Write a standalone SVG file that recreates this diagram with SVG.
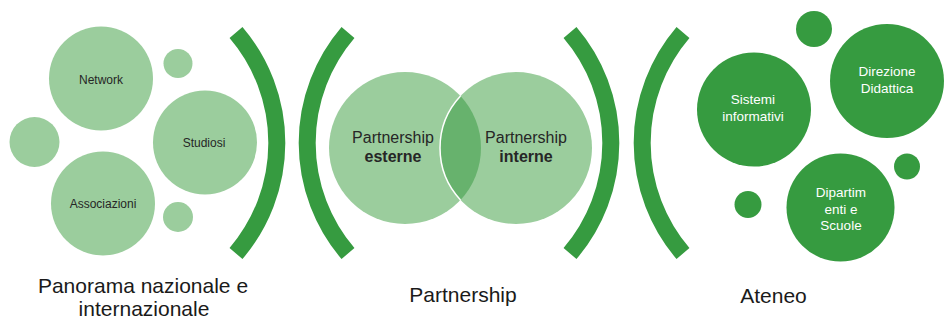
<svg xmlns="http://www.w3.org/2000/svg" width="946" height="320" viewBox="0 0 946 320">
  <style>
    .light { fill: #9bcd9d; }
    .dark { fill: #369b40; }
    .lens { fill: #67b26d; }
    .bracket { fill: none; stroke: #369b40; stroke-width: 17; stroke-linecap: butt; }
    .t { font-family: "Liberation Sans", Arial, sans-serif; text-anchor: middle; }
    .sm { font-size: 12px; fill: #262626; }
    .md { font-size: 16px; fill: #262626; }
    .wt { font-size: 13.5px; fill: #ffffff; }
    .lbl { font-size: 21px; fill: #1a1a1a; }
    .b { font-weight: bold; }
  </style>
  <rect x="0" y="0" width="946" height="320" fill="#ffffff"/>

  <!-- Left panel: Panorama nazionale e internazionale -->
  <g id="left-small-top"><circle class="light" cx="178" cy="63.5" r="14.5"/></g>
  <g id="left-small-left"><circle class="light" cx="34.5" cy="142" r="25"/></g>
  <g id="left-small-bottom"><circle class="light" cx="178" cy="217" r="15"/></g>
  <g id="network">
    <circle class="light" cx="101" cy="78.5" r="52"/>
    <text class="t sm" x="101" y="84">Network</text>
  </g>
  <g id="studiosi">
    <circle class="light" cx="205" cy="142.5" r="52"/>
    <text class="t sm" x="204" y="147">Studiosi</text>
  </g>
  <g id="associazioni">
    <circle class="light" cx="103" cy="203.5" r="52"/>
    <text class="t sm" x="103" y="208">Associazioni</text>
  </g>
  <g id="label-panorama">
    <text class="t lbl" x="143" y="293">Panorama nazionale e</text>
    <text class="t lbl" x="144" y="316">internazionale</text>
  </g>

  <!-- Middle panel: Partnership -->
  <g id="partnership-esterne">
    <circle class="light" cx="405" cy="148" r="76"/>
    <text class="t md" x="393" y="143">Partnership</text>
    <text class="t md b" x="393" y="162">esterne</text>
  </g>
  <g id="partnership-interne">
    <circle class="light" cx="516" cy="148" r="76"/>
    <path class="lens" d="M460.5 96.1 A76 76 0 0 1 460.5 199.9 A76 76 0 0 1 460.5 96.1 Z"/>
    <path d="M460.5 199.9 A76 76 0 0 1 460.5 96.1" fill="none" stroke="#ffffff" stroke-width="1.5"/>
    <text class="t md" x="526" y="143">Partnership</text>
    <text class="t md b" x="526" y="162">interne</text>
  </g>
  <g id="label-partnership">
    <text class="t lbl" x="463" y="302">Partnership</text>
  </g>

  <!-- Right panel: Ateneo -->
  <g id="right-small-top"><circle class="dark" cx="814" cy="29" r="18"/></g>
  <g id="right-small-right"><circle class="dark" cx="907" cy="166.5" r="13"/></g>
  <g id="right-small-left"><circle class="dark" cx="748" cy="204.5" r="13.5"/></g>
  <g id="sistemi-informativi">
    <circle class="dark" cx="754" cy="109.5" r="57"/>
    <text class="t wt" x="753" y="104">Sistemi</text>
    <text class="t wt" x="753" y="121">informativi</text>
  </g>
  <g id="direzione-didattica">
    <circle class="dark" cx="887" cy="81" r="57"/>
    <text class="t wt" x="887" y="76">Direzione</text>
    <text class="t wt" x="887" y="93">Didattica</text>
  </g>
  <g id="dipartimenti-scuole">
    <circle class="dark" cx="840.5" cy="207.5" r="54"/>
    <text class="t wt" x="841" y="197">Dipartim</text>
    <text class="t wt" x="841" y="213.5">enti e</text>
    <text class="t wt" x="841" y="230">Scuole</text>
  </g>
  <g id="label-ateneo">
    <text class="t lbl" x="773.5" y="303">Ateneo</text>
  </g>

  <!-- Brackets -->
  <g id="connectors">
    <path class="bracket" d="M236 32.5 A170 170 0 0 1 236 253.5"/>
    <path class="bracket" d="M348 32.5 A170 170 0 0 0 348 253.5"/>
    <path class="bracket" d="M570 32.5 A170 170 0 0 1 570 253.5"/>
    <path class="bracket" d="M683 32.5 A170 170 0 0 0 683 253.5"/>
  </g>
</svg>
